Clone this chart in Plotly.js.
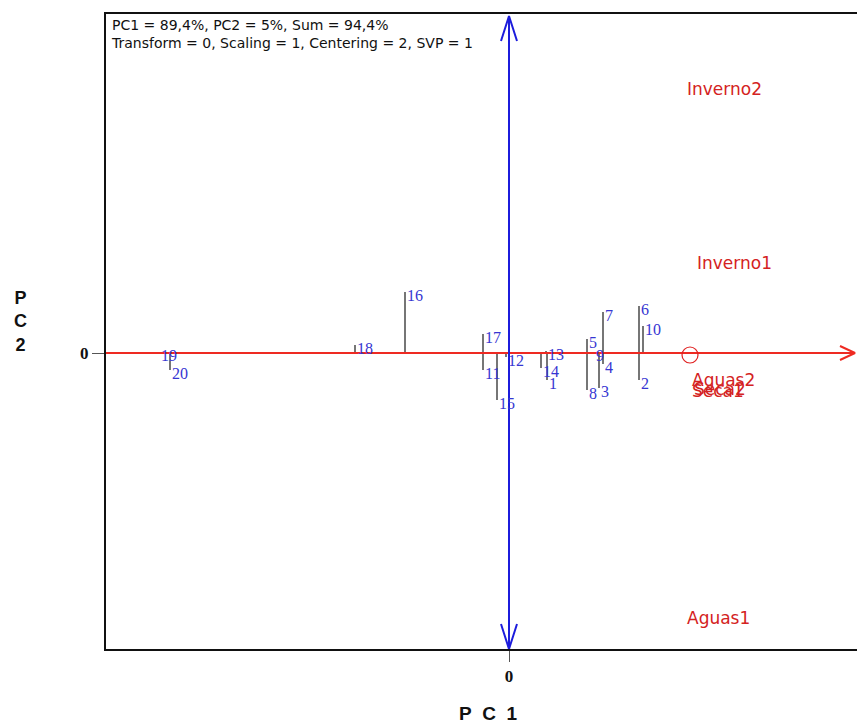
<!DOCTYPE html>
<html>
<head>
<meta charset="utf-8">
<script src="https://cdn.plot.ly/plotly-3.0.1.min.js"></script>
<style>
  html, body { margin: 0; padding: 0; background: #fff; overflow: hidden; }
  #chart { width: 960px; height: 724px; }
</style>
</head>
<body>
<div id="chart"></div>
<script>
// Genotype scores on PC1 / PC2 (stems drop from each point to the PC1 axis)
const genotypes = ['1','2','3','4','5','6','7','8','9','10','11','12','13','14','15','16','17','18','19','20'];
const genoPC1 = [0.38, 1.30, 0.90, 0.94, 0.78, 1.30, 0.94, 0.78, 0.85, 1.34, -0.26, -0.03, 0.37, 0.32, -0.12, -1.04, -0.26, -1.54, -3.50, -3.39];
const genoPC2 = [-0.27, -0.27, -0.35, -0.11, 0.14, 0.47, 0.41, -0.37, 0.01, 0.27, -0.17, -0.04, 0.02, -0.15, -0.47, 0.61, 0.19, 0.08, 0.01, -0.17];

// Environment labels
const environments = ['Inverno2', 'Inverno1', 'Aguas2', 'Seca2', 'Seca1', 'Aguas1'];
const envPC1 = [1.76, 1.86, 1.81, 1.83, 1.81, 1.76];
const envPC2 = [2.64, 0.90, -0.27, -0.36, -0.38, -2.65];

// Average environment marker
const avgEnvPC1 = [1.81];
const avgEnvPC2 = [-0.02];

const xRange = [-4.03, 4.31];
const yRange = [-2.96, 3.39];
const redAxisEnd = 3.46;

const infoLines = ['PC1 = 89,4%, PC2 = 5%, Sum = 94,4%', 'Transform = 0, Scaling = 1, Centering = 2, SVP = 1'];

// stems
const stemX = [], stemY = [];
genotypes.forEach((g, i) => {
  stemX.push(genoPC1[i], genoPC1[i], null);
  stemY.push(0, genoPC2[i], null);
});

// arrowhead helper sizes (axis units)
const headLenH = 0.15, headHalfH = 0.07;
const headLenV = 0.25, headHalfV = 0.08;

const traces = [
  {
    x: stemX, y: stemY, mode: 'lines', type: 'scatter',
    line: { color: '#3c3c3c', width: 1.4 }, hoverinfo: 'skip', showlegend: false
  },
  {
    // PC1 axis with open arrowhead
    x: [xRange[0], redAxisEnd, null, redAxisEnd - headLenH, redAxisEnd, redAxisEnd - headLenH],
    y: [0, 0, null, headHalfH, 0, -headHalfH],
    mode: 'lines', type: 'scatter',
    line: { color: '#ee2a22', width: 2 }, hoverinfo: 'skip', showlegend: false
  },
  {
    // PC2 axis with arrowheads at both ends
    x: [0, 0, null, -headHalfV, 0, headHalfV, null, -headHalfV, 0, headHalfV],
    y: [yRange[0], yRange[1] - 0.02, null,
        yRange[1] - 0.02 - headLenV, yRange[1] - 0.02, yRange[1] - 0.02 - headLenV, null,
        yRange[0] + headLenV, yRange[0], yRange[0] + headLenV],
    mode: 'lines', type: 'scatter',
    line: { color: '#1c1cdc', width: 2 }, hoverinfo: 'skip', showlegend: false
  },
  {
    x: avgEnvPC1, y: avgEnvPC2, mode: 'markers', type: 'scatter',
    marker: { symbol: 'circle-open', size: 16, color: '#e02020', line: { width: 1.2 } },
    hoverinfo: 'skip', showlegend: false
  }
];

const annotations = [];
genotypes.forEach((g, i) => {
  annotations.push({
    x: genoPC1[i], y: genoPC2[i], xref: 'x', yref: 'y', text: g, showarrow: false,
    xanchor: 'left', yanchor: 'middle', xshift: 0, yshift: -3,
    font: { family: 'Liberation Serif', size: 16, color: '#3636d2' }
  });
});
environments.forEach((e, i) => {
  annotations.push({
    x: envPC1[i], y: envPC2[i], xref: 'x', yref: 'y', text: e, showarrow: false,
    xanchor: 'left', yanchor: 'middle',
    font: { family: 'DejaVu Sans', size: 17, color: '#d42222' }
  });
});
annotations.push({
  x: 0, y: 1, xref: 'paper', yref: 'paper', xanchor: 'left', yanchor: 'top',
  xshift: 3, yshift: -1, align: 'left', showarrow: false,
  text: infoLines.join('<br>'),
  font: { family: 'DejaVu Sans', size: 14, color: '#111' }
});
annotations.push({
  x: 0, y: 0, xref: 'x', yref: 'paper', xanchor: 'center', yanchor: 'top',
  xshift: -21, yshift: -52, showarrow: false, text: '<b>P\u00a0\u00a0C\u00a0\u00a01</b>',
  font: { family: 'Liberation Sans', size: 19, color: '#111' }
});
annotations.push({
  x: 0, y: 0.515, xref: 'paper', yref: 'paper', xanchor: 'center', yanchor: 'middle',
  xshift: -86, showarrow: false, text: '<b>P<br>C<br>2</b>',
  font: { family: 'Liberation Sans', size: 18, color: '#111' }
});

const layout = {
  width: 960, height: 724,
  margin: { l: 106, r: 20, t: 14, b: 75 },
  paper_bgcolor: '#fff', plot_bgcolor: '#fff',
  showlegend: false,
  xaxis: {
    range: xRange, showgrid: false, zeroline: false,
    showline: true, linecolor: '#111', linewidth: 2, mirror: true,
    tickmode: 'array', tickvals: [0], ticktext: ['0'],
    ticks: 'outside', ticklen: 11, tickcolor: '#555', tickwidth: 1,
    tickfont: { family: 'Liberation Serif', size: 17, color: '#111', weight: 'bold' }
  },
  yaxis: {
    range: yRange, showgrid: false, zeroline: false,
    showline: true, linecolor: '#111', linewidth: 2, mirror: true,
    tickmode: 'array', tickvals: [0], ticktext: ['0'],
    ticks: 'outside', ticklen: 12, tickcolor: '#555', tickwidth: 1,
    tickfont: { family: 'Liberation Serif', size: 17, color: '#111', weight: 'bold' }
  },
  annotations: annotations
};

Plotly.newPlot('chart', traces, layout, { staticPlot: true, displayModeBar: false });
</script>
</body>
</html>
